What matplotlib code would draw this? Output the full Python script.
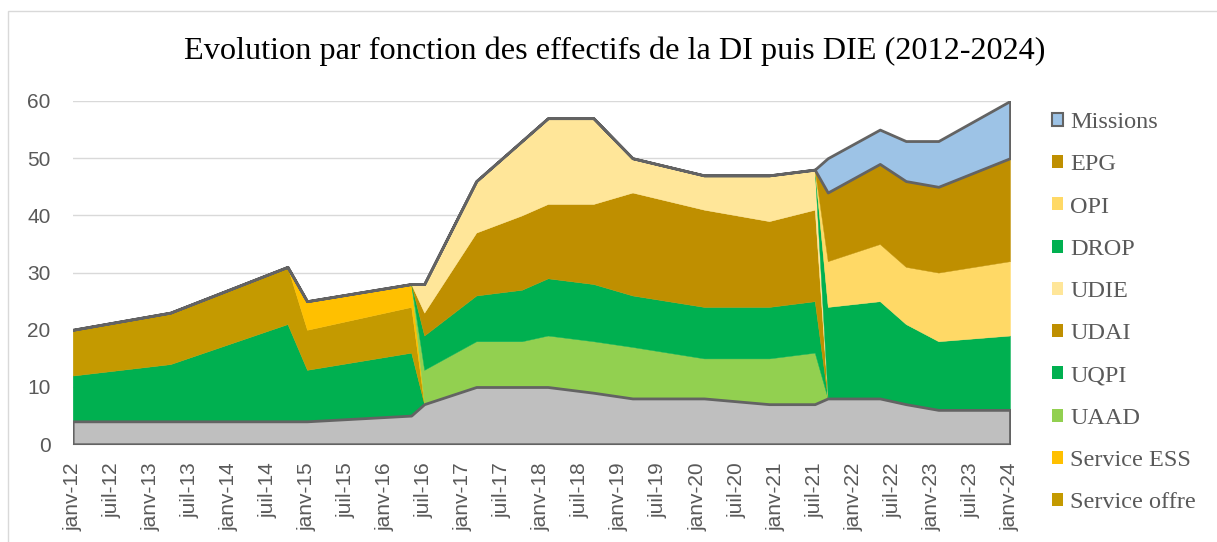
import matplotlib.pyplot as plt
from matplotlib.patches import Patch, Rectangle
import numpy as np

# dates des points (AAAA-MM)
dates = ['2012-01', '2013-04', '2014-10', '2015-01', '2016-05', '2016-07',
         '2017-03', '2017-10', '2018-02', '2018-09', '2019-03', '2020-02',
         '2020-12', '2021-07', '2021-09', '2022-05', '2022-09', '2023-02',
         '2024-01']

# séries empilées, du bas vers le haut
base          = [4, 4, 4, 4, 5, 7, 10, 10, 10, 9, 8, 8, 7, 7, 8, 8, 7, 6, 6]
hidden_green  = [8, 10, 17, 9, 11, 0, 0, 0, 0, 0, 0, 0, 0, 0, 0, 0, 0, 0, 0]
service_offre = [8, 9, 10, 7, 8, 0, 0, 0, 0, 0, 0, 0, 0, 0, 0, 0, 0, 0, 0]
service_ess   = [0, 0, 0, 5, 4, 0, 0, 0, 0, 0, 0, 0, 0, 0, 0, 0, 0, 0, 0]
uaad          = [0, 0, 0, 0, 0, 6, 8, 8, 9, 9, 9, 7, 8, 9, 0, 0, 0, 0, 0]
uqpi          = [0, 0, 0, 0, 0, 6, 8, 9, 10, 10, 9, 9, 9, 9, 0, 0, 0, 0, 0]
udai          = [0, 0, 0, 0, 0, 4, 11, 13, 13, 14, 18, 17, 15, 16, 0, 0, 0, 0, 0]
udie          = [0, 0, 0, 0, 0, 5, 9, 13, 15, 15, 6, 6, 8, 7, 0, 0, 0, 0, 0]
drop          = [0, 0, 0, 0, 0, 0, 0, 0, 0, 0, 0, 0, 0, 0, 16, 17, 14, 12, 13]
opi           = [0, 0, 0, 0, 0, 0, 0, 0, 0, 0, 0, 0, 0, 0, 8, 10, 10, 12, 13]
epg           = [0, 0, 0, 0, 0, 0, 0, 0, 0, 0, 0, 0, 0, 0, 12, 14, 15, 15, 18]
missions      = [0, 0, 0, 0, 0, 0, 0, 0, 0, 0, 0, 0, 0, 0, 6, 6, 7, 8, 10]

tick_labels = ['janv-12', 'juil-12', 'janv-13', 'juil-13', 'janv-14', 'juil-14',
               'janv-15', 'juil-15', 'janv-16', 'juil-16', 'janv-17', 'juil-17',
               'janv-18', 'juil-18', 'janv-19', 'juil-19', 'janv-20', 'juil-20',
               'janv-21', 'juil-21', 'janv-22', 'juil-22', 'janv-23', 'juil-23',
               'janv-24']

title = 'Evolution par fonction des effectifs de la DI puis DIE (2012-2024)'

# mois écoulés depuis janvier 2012
x = np.array([(int(d[:4]) - 2012) * 12 + int(d[5:]) - 1 for d in dates])

series = [base, hidden_green, service_offre, service_ess, uaad, uqpi,
          udai, udie, drop, opi, epg, missions]
colors = ['#BFBFBF', '#00B050', '#C49A00', '#FFC000', '#92D050', '#00B050',
          '#BF8F00', '#FFE699', '#00B050', '#FFD966', '#BF8F00', '#9DC3E6']
edge = '#636363'

fig = plt.figure(figsize=(12.17, 5.42), dpi=100)
W, H = 1217, 542
ax = fig.add_axes([72.7 / W, 1 - 444.2 / H, (1010 - 72.7) / W, (444.2 - 101) / H])

polys = ax.stackplot(x, *series, colors=colors)
for p, c in zip(polys, colors):
    p.set_edgecolor(c)
    p.set_linewidth(0.3)
    p.set_zorder(2)
# contours gris foncé (base et Missions)
for i in (0, len(polys) - 1):
    polys[i].set_edgecolor(edge)
    polys[i].set_linewidth(2.0)
    polys[i].set_zorder(3)

ax.set_xlim(0, 144)
ax.set_ylim(0, 60)
ax.set_xticks(np.arange(0, 145, 6))
ax.set_xticklabels(tick_labels, rotation=90)
ax.set_yticks(range(0, 61, 10))
ax.tick_params(axis='both', length=0, labelsize=15, labelcolor='#595959')
ax.tick_params(axis='x', pad=13)
ax.tick_params(axis='y', pad=16)
for lab in ax.get_xticklabels() + ax.get_yticklabels():
    lab.set_family('Liberation Sans')

ax.grid(axis='y', color='#D9D9D9', linewidth=1.0, zorder=0)
ax.set_axisbelow(True)
for s in ('left', 'right', 'top'):
    ax.spines[s].set_visible(False)
ax.spines['bottom'].set_color('#D9D9D9')
ax.spines['bottom'].set_linewidth(1.0)

fig.text(0.505, 1 - 51 / H, title, ha='center', va='center',
         fontsize=23.2, family='Liberation Serif', color='black')

# légende (ordre inversé, comme Excel)
leg_names = ['Missions', 'EPG', 'OPI', 'DROP', 'UDIE', 'UDAI', 'UQPI',
             'UAAD', 'Service ESS', 'Service offre']
leg_colors = ['#9DC3E6', '#BF8F00', '#FFD966', '#00B050', '#FFE699',
              '#BF8F00', '#00B050', '#92D050', '#FFC000', '#C49A00']
handles = []
for n, c in zip(leg_names, leg_colors):
    if n == 'Missions':
        handles.append(Patch(facecolor=c, edgecolor=edge, linewidth=1.5))
    else:
        handles.append(Patch(facecolor=c, edgecolor='none'))
leg = fig.legend(handles, leg_names, loc='upper left',
                 bbox_to_anchor=(1052 / W, 1 - 112 / H), frameon=False,
                 prop={'family': 'Liberation Serif', 'size': 17.5},
                 handlelength=0.45, handleheight=0.45, handletextpad=0.3,
                 labelspacing=0.875, borderpad=0, borderaxespad=0)
for t in leg.get_texts():
    t.set_color('#595959')

# cadre du graphique
fig.patches.append(Rectangle((8 / W, -0.02), 1.1, 1 - 11 / H + 0.02,
                             transform=fig.transFigure, fill=False,
                             edgecolor='#D9D9D9', linewidth=1.0))

fig.savefig('out.png', dpi=100)
